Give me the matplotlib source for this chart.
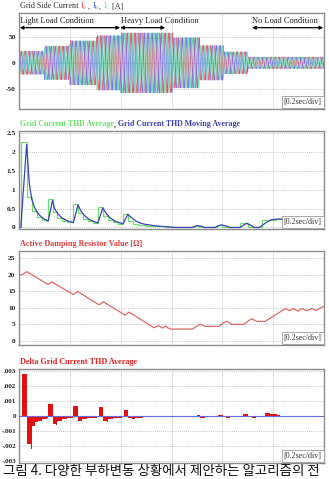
import numpy as np
import matplotlib
matplotlib.use('Agg')
import matplotlib.pyplot as plt

# ---------------- data ----------------
# Panel 1: three-phase grid current, amplitude envelope per load segment
seg_edges = [0.0, 0.10, 0.20, 0.305, 0.40, 0.605, 0.71, 0.805, 0.90, 1.2]
seg_amps = [22, 32, 42, 52, 57, 48, 33, 21, 11]
grid_freq = 60.0
phase_shift_deg = [0, -120, 120]
phase_colors = ['#ee4a5a', '#5058e8', '#52e0a0']

# Panel 2: THD average (step) and moving average
thd_avg_edges = [0.0, 0.007, 0.030, 0.050, 0.070, 0.089, 0.105, 0.115, 0.135, 0.150, 0.168,
                 0.190, 0.214, 0.233, 0.250, 0.270, 0.290, 0.312, 0.332, 0.350, 0.370, 0.390,
                 0.410, 0.430, 0.450, 0.470, 0.500, 0.520, 0.580, 0.690, 0.710, 0.780, 0.800,
                 0.870, 0.900, 0.955, 1.010, 1.200]
thd_avg_vals = [0.0, 2.27, 0.80, 0.45, 0.27, 0.20, 0.16, 0.75, 0.40, 0.25, 0.18,
                0.14, 0.62, 0.38, 0.22, 0.16, 0.12, 0.55, 0.30, 0.20, 0.14, 0.10,
                0.35, 0.18, 0.10, 0.07, 0.05, 0.03, 0.0, 0.05, 0.0, 0.07, 0.0,
                0.11, 0.0, 0.20, 0.23]
thd_mov_t = [0.007, 0.030, 0.040, 0.050, 0.060, 0.070, 0.085, 0.100, 0.115, 0.132, 0.140,
             0.155, 0.170, 0.190, 0.214, 0.232, 0.245, 0.260, 0.280, 0.310, 0.330, 0.345,
             0.360, 0.380, 0.410, 0.428, 0.445, 0.460, 0.480, 0.500, 0.530, 0.560, 0.600,
             0.620, 0.680, 0.700, 0.720, 0.730, 0.770, 0.795, 0.815, 0.830, 0.870, 0.895,
             0.910, 0.925, 0.945, 0.970, 0.990, 1.010, 1.050, 1.200]
thd_mov_v = [0.0, 2.20, 1.20, 0.75, 0.55, 0.42, 0.30, 0.22, 0.18, 0.72, 0.50,
             0.35, 0.25, 0.18, 0.13, 0.60, 0.42, 0.30, 0.20, 0.12, 0.52, 0.35,
             0.25, 0.16, 0.10, 0.35, 0.25, 0.17, 0.11, 0.08, 0.05, 0.03, 0.01,
             0.0, 0.0, 0.05, 0.03, 0.0, 0.0, 0.07, 0.04, 0.0, 0.0, 0.11,
             0.07, 0.0, 0.0, 0.12, 0.20, 0.22, 0.23, 0.22]

# Panel 3: active damping resistor value
res_t = [0.0, 0.014, 0.030, 0.115, 0.129, 0.214, 0.231, 0.315, 0.332, 0.417, 0.433,
         0.531, 0.548, 0.564, 0.577, 0.594, 0.683, 0.712, 0.732, 0.784, 0.817, 0.837,
         0.883, 0.915, 0.935, 0.968, 1.049, 1.066, 1.079, 1.099, 1.112, 1.132, 1.151,
         1.169, 1.200]
res_v = [20.0, 20.0, 20.9, 17.0, 17.8, 14.0, 14.9, 10.9, 11.8, 7.8, 8.7,
         4.0, 4.6, 3.9, 4.5, 3.6, 3.6, 5.1, 4.4, 4.4, 6.0, 5.0,
         5.0, 6.7, 5.9, 5.9, 9.8, 9.1, 9.8, 9.0, 9.8, 9.1, 9.8,
         9.2, 10.5]

# Panel 4: delta THD average (bars)
dthd_left = [0.013, 0.030, 0.046, 0.052, 0.063, 0.076, 0.089, 0.109,
             0.115, 0.132, 0.146, 0.151, 0.168, 0.188,
             0.214, 0.233, 0.247, 0.266,
             0.315, 0.332, 0.345, 0.351, 0.371,
             0.413, 0.430, 0.443, 0.456, 0.489,
             0.581, 0.699, 0.712, 0.784, 0.814, 0.883, 0.915,
             0.968, 0.987, 1.001, 1.014]
dthd_right = [0.030, 0.046, 0.052, 0.063, 0.076, 0.089, 0.109, 0.115,
              0.132, 0.146, 0.151, 0.168, 0.188, 0.211,
              0.233, 0.247, 0.266, 0.306,
              0.332, 0.345, 0.351, 0.371, 0.404,
              0.430, 0.443, 0.456, 0.489, 0.515,
              0.601, 0.712, 0.732, 0.801, 0.830, 0.902, 0.932,
              0.987, 1.001, 1.014, 1.027]
dthd_vals = [0.00274, -0.00183, -0.0022, -0.00063, -0.0004, -0.0003, -0.0002, -0.0001,
             0.00078, -0.0005, -0.0006, -0.0003, -0.0002, -0.0001,
             0.00067, -0.00035, -0.0002, -0.0001,
             0.00057, -0.0003, -0.0004, -0.0002, -0.0001,
             0.00037, -0.00015, -0.0002, -0.0001, -0.00005,
             -0.00005, 0.00005, -0.0001, 0.00005, -0.0001, 0.0001, -0.00015,
             0.0002, 0.00015, 0.0001, 0.00005]

p1_ticks = [50, 0, -50]
p2_ticks = [0, 0.5, 1, 1.5, 2, 2.5]
p2_ticklabels = ['0', '0.5', '1', '1.5', '2', '2.5']
p3_ticks = [0, 5, 10, 15, 20, 25]
p4_ticks = [-0.003, -0.002, -0.001, 0, 0.001, 0.002, 0.003]
p4_ticklabels = ['-.003', '-.002', '-.001', '0', '.001', '.002', '.003']
caption = '그림 4. 다양한 부하변동 상황에서 제안하는 알고리즘의 전'

# ---------------- figure ----------------
W, H = 329, 479
plt.rcParams['font.family'] = ['Liberation Serif', 'DejaVu Serif']
plt.rcParams['mathtext.fontset'] = 'custom'
plt.rcParams['mathtext.rm'] = 'Liberation Serif'
plt.rcParams['mathtext.it'] = 'Liberation Serif'
fig = plt.figure(figsize=(W / 100, H / 100), dpi=100)


def make_ax(top_px, bot_px):
    left, right = 19, 324
    ax = fig.add_axes([left / W, 1 - bot_px / H, (right - left) / W, (bot_px - top_px) / H])
    ax.set_xlim(0, 1.2)
    ax.set_xticks(np.arange(0, 1.21, 0.2))
    ax.tick_params(axis='both', length=0, labelsize=5.3, pad=2.5)
    ax.tick_params(axis='x', labelbottom=False)
    ax.grid(True, color='#b0b0b0', linestyle=(0, (1, 1.5)), linewidth=0.6)
    ax.set_axisbelow(True)
    for s in ax.spines.values():
        s.set_color('#8a8a8a')
        s.set_linewidth(1.0)
    ax.text(0.993, 0.035, '[0.2sec/div]', transform=ax.transAxes, ha='right', va='bottom',
            fontsize=5.8, color='#333333', zorder=10,
            bbox=dict(facecolor='white', edgecolor='#9a9a9a', boxstyle='square,pad=0.25', lw=0.6))
    return ax


def bold_ticks(ax):
    for lab in ax.get_yticklabels():
        lab.set_fontweight('bold')
        lab.set_color('#222222')


# Panel 1
ax1 = make_ax(13, 109)
t = np.linspace(0, 1.2, 8000)
idx = np.clip(np.searchsorted(seg_edges, t, side='right') - 1, 0, len(seg_amps) - 1)
amp = np.array(seg_amps)[idx]
for ph, col in zip(phase_shift_deg, phase_colors):
    ax1.plot(t, amp * np.sin(2 * np.pi * grid_freq * t + np.deg2rad(ph)), color=col, lw=0.55, alpha=0.8)
ax1.set_ylim(-88, 95)
ax1.set_yticks(p1_ticks)
ax1.set_yticklabels([str(v) for v in p1_ticks])
bold_ticks(ax1)
arrow_kw = dict(arrowstyle='<|-|>', color='black', lw=0.9, mutation_scale=5, shrinkA=0, shrinkB=0)
ax1.annotate('', xy=(0.003, 67), xytext=(0.398, 67), arrowprops=arrow_kw)
ax1.annotate('', xy=(0.398, 67), xytext=(0.575, 67), arrowprops=arrow_kw)
ax1.annotate('', xy=(0.917, 67), xytext=(1.197, 67), arrowprops=arrow_kw)
ax1.text(0.004, 79, 'Light Load Condition', fontsize=6.0, va='center', ha='left', color='#222')
ax1.text(0.402, 79, 'Heavy Load Condition', fontsize=6.0, va='center', ha='left', color='#222')
ax1.text(0.917, 79, 'No Load Condition', fontsize=6.0, va='center', ha='left', color='#222')

# Panel 2
ax2 = make_ax(131, 229)
ax2.stairs(thd_avg_vals, thd_avg_edges, color='#6ae26a', lw=0.9, baseline=None)
ax2.plot(thd_mov_t, thd_mov_v, color='#4040b8', lw=0.9)
ax2.set_ylim(-0.04, 2.56)
ax2.set_yticks(p2_ticks)
ax2.set_yticklabels(p2_ticklabels)
bold_ticks(ax2)

# Panel 3
ax3 = make_ax(251, 345)
ax3.plot(res_t, res_v, color='#e06868', lw=0.9)
ax3.set_ylim(-1.2, 27.1)
ax3.set_yticks(p3_ticks)
ax3.set_yticklabels([str(v) for v in p3_ticks])
bold_ticks(ax3)

# Panel 4
ax4 = make_ax(369, 463)
lefts = np.array(dthd_left)
widths = np.array(dthd_right) - lefts
ax4.bar(lefts, dthd_vals, width=widths, align='edge', color='#e41010', edgecolor='none', zorder=2)
ax4.axhline(0, color='#6a6ad8', lw=0.8, zorder=3)
ax4.set_ylim(-0.0031, 0.0031)
ax4.set_yticks(p4_ticks)
ax4.set_yticklabels(p4_ticklabels)
ax4.tick_params(axis='y', labelsize=5.0, pad=2.0)
bold_ticks(ax4)

# ---------------- titles (multi-colour) ----------------
fig.canvas.draw()
renderer = fig.canvas.get_renderer()


def colored_line(x_px, y_px, pieces, size, weight):
    x = x_px
    for s, c in pieces:
        tx = fig.text(x / W, 1 - y_px / H, s, color=c, fontsize=size, fontweight=weight,
                      ha='left', va='baseline')
        bb = tx.get_window_extent(renderer=renderer)
        x += bb.width


colored_line(20, 8.5, [('Grid Side Current ', '#333333'), (r'$\mathregular{I_a}$', '#ee4a5a'),
                       (',\u00a0', '#333333'), (r'$\mathregular{I_b}$', '#5058e8'),
                       (',\u00a0', '#333333'), (r'$\mathregular{I_c}$', '#52e0a0'),
                       ('\u00a0[A]', '#333333')], 5.9, 'normal')
colored_line(20, 126, [('Grid Current THD Average', '#6ae26a'), (',\u00a0', '#333333'),
                       ('Grid Current THD Moving Average', '#3f3fb0')], 5.7, 'bold')
colored_line(20, 246, [('Active Damping Resistor Value [Ω]', '#e03a3a')], 5.9, 'bold')
colored_line(20, 364, [('Delta Grid Current THD Average', '#e02020')], 5.9, 'bold')

fig.text(3 / W, 1 - 464 / H, caption, fontsize=9.7, va='top', ha='left',
         family=['Noto Sans CJK KR', 'DejaVu Sans'], color='#111111')

fig.savefig('out.png', dpi=100)
